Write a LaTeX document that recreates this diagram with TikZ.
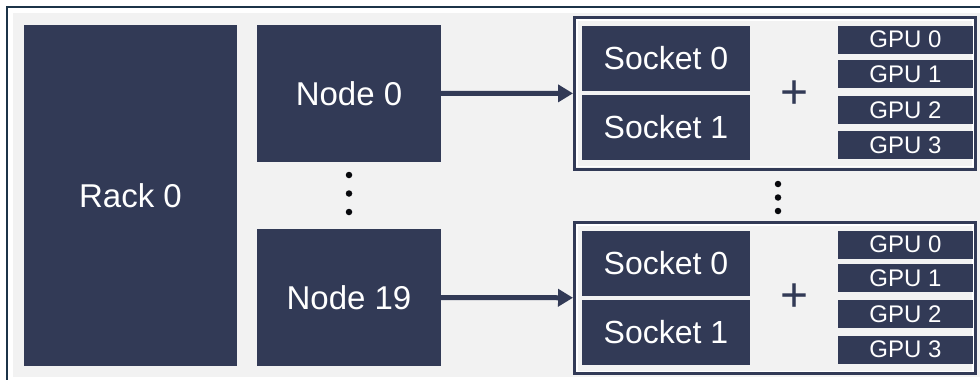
\documentclass[tikz,border=0pt]{standalone}
\usepackage{fontspec}
\setmainfont{Liberation Sans}
\usetikzlibrary{positioning, arrows.meta}
\definecolor{navy}{RGB}{50,58,86}
\definecolor{panel}{RGB}{242,242,242}
\definecolor{edge}{RGB}{28,52,72}
\tikzstyle{rackbox} = [rectangle, minimum width=213, minimum height=341, text centered, fill=navy, text=white, font=\fontsize{33}{38}\selectfont]
\tikzstyle{nodebox} = [rectangle, minimum width=184, minimum height=137, text centered, fill=navy, text=white, font=\fontsize{33}{38}\selectfont]
\tikzstyle{socketbox} = [rectangle, minimum width=168, minimum height=65.5, inner sep=0, text centered, fill=navy, text=white, font=\fontsize{32}{36}\selectfont]
\tikzstyle{gpubox} = [rectangle, minimum width=135, minimum height=28, inner sep=0, text centered, fill=navy, text=white, font=\fontsize{24}{26}\selectfont]
\tikzstyle{frame} = [rectangle, minimum width=401, minimum height=151.5, draw=navy, line width=3]
\tikzstyle{arrow} = [line width=5, ->, >={Triangle[length=15pt,width=17pt]}, navy]
\tikzstyle{dot} = [circle, fill=black!85!navy, inner sep=0, minimum size=6.5]
\tikzstyle{plus} = [text=navy, inner sep=0, font=\fontsize{48}{48}\selectfont]

\begin{document}
\begin{tikzpicture}[x=1pt, y=-1pt]
                \useasboundingbox (0,0) rectangle (980,380);
                \fill [panel] (13,13) rectangle (980,377);
                \draw [edge, line width=1.5] (7,380) -- (7,7) -- (980,7);

                \node (rack) [rackbox] at (130.5,195.5) {Rack 0};
                \node (node0) [nodebox] at (349,93.5) {Node 0};
                \node (node19) [nodebox] at (349,297.5) {Node 19};
                \node (d1) [dot] at (349,175) {};
                \node (d2) [dot] at (349,193.5) {};
                \node (d3) [dot] at (349,212) {};

                % upper node
                \node (frame0) [frame] at (775,93.25) {};
                \draw [white, line width=1.5] ([shift={(4,4)}]frame0.north west) rectangle ([shift={(-4,-4)}]frame0.south east);
                \node (s00) [socketbox] at (666,58.5) {Socket 0};
                \node (s01) [socketbox, below=3pt of s00] {Socket 1};
                \node (plus0) [plus] at (795,95) {+};
                \node (g00) [gpubox] at (905.5,39.5) {GPU 0};
                \node (g01) [gpubox, below=6.5pt of g00] {GPU 1};
                \node (g02) [gpubox, below=7pt of g01] {GPU 2};
                \node (g03) [gpubox, below=7pt of g02] {GPU 3};

                \node (d4) [dot] at (778,184) {};
                \node (d5) [dot] at (778,197.5) {};
                \node (d6) [dot] at (778,211) {};

                % lower node
                \node (frame19) [frame] at (775,298) {};
                \draw [white, line width=1.5] ([shift={(4,4)}]frame19.north west) rectangle ([shift={(-4,-4)}]frame19.south east);
                \node (s190) [socketbox] at (666,263.5) {Socket 0};
                \node (s191) [socketbox, below=3pt of s190] {Socket 1};
                \node (plus19) [plus] at (795,298) {+};
                \node (g190) [gpubox] at (905.5,244.5) {GPU 0};
                \node (g191) [gpubox, below=5.5pt of g190] {GPU 1};
                \node (g192) [gpubox, below=7.5pt of g191] {GPU 2};
                \node (g193) [gpubox, below=7pt of g192] {GPU 3};

                \draw [arrow] (node0) -- (frame0);
                \draw [arrow] (node19) -- (frame19);
            \end{tikzpicture}
\end{document}
